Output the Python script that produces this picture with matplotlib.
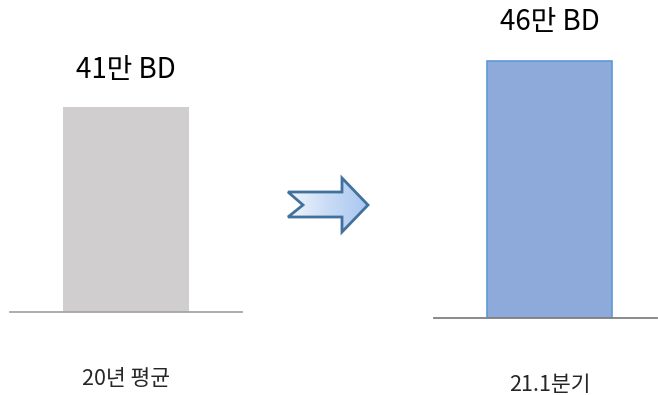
import matplotlib
matplotlib.use("Agg")
import matplotlib.pyplot as plt
import numpy as np
from matplotlib.patches import Polygon
from matplotlib.colors import LinearSegmentedColormap

plt.rcParams['font.family'] = ['Noto Sans CJK KR', 'DejaVu Sans']

categories_left = ["20년 평균"]
values_left = [41]
labels_left = ["41만 BD"]
categories_right = ["21.1분기"]
values_right = [46]
labels_right = ["46만 BD"]

W, H = 658, 395
fig = plt.figure(figsize=(W / 100, H / 100), dpi=100)

def px_axes(x0, x1, ybot, ytop):
    return fig.add_axes([x0 / W, 1 - ybot / H, (x1 - x0) / W, (ybot - ytop) / H])

def style(ax, line_color, pad):
    for s in ["top", "right", "left"]:
        ax.spines[s].set_visible(False)
    ax.spines["bottom"].set_color(line_color)
    ax.spines["bottom"].set_linewidth(1.3)
    ax.set_yticks([])
    ax.tick_params(axis="x", length=0, labelsize=15.5, labelcolor="#262626", pad=pad)
    ax.patch.set_alpha(0)

# Left panel
axL = px_axes(10, 242, 312, 62)
axL.bar(categories_left, values_left, width=126 / 232, color="#D0CECF", edgecolor="none")
axL.set_xlim(-0.5, 0.5)
axL.set_ylim(0, 50)
style(axL, "#A6A6A6", 40)
for c, v, t in zip(categories_left, values_left, labels_left):
    axL.annotate(t, (c, v), xytext=(0, 27), textcoords="offset points",
                 ha="center", va="center", fontsize=20, color="black")

# Right panel
axR = px_axes(434, 657, 318, 38)
axR.bar(categories_right, values_right, width=125 / 223, color="#8EAADB",
        edgecolor="#5B9BD5", linewidth=1.2)
axR.set_xlim(-(549.5 - 434) / 223, (657 - 549.5) / 223)
axR.set_ylim(0, 46 * 280 / 257)
style(axR, "#808080", 40)
for c, v, t in zip(categories_right, values_right, labels_right):
    axR.annotate(t, (c, v), xytext=(0, 28), textcoords="offset points",
                 ha="center", va="center", fontsize=20, color="black")

# Arrow (decorative shape)
axA = fig.add_axes([0, 0, 1, 1])
axA.set_xlim(0, W)
axA.set_ylim(H, 0)
axA.axis("off")
pts = [(288, 192), (342, 192), (342, 178), (368, 205), (342, 232),
       (342, 217), (288, 217), (303, 205)]
poly = Polygon(pts, closed=True, facecolor="none", edgecolor="#41719C",
               linewidth=2, joinstyle="miter", zorder=3)
axA.add_patch(poly)
grad = np.linspace(0, 1, 256).reshape(1, -1)
cmap = LinearSegmentedColormap.from_list("g", ["#F2F6FD", "#C9DCF5", "#A9C7F0"])
im = axA.imshow(grad, extent=(288, 368, 232, 178), cmap=cmap, aspect="auto", zorder=2)
clip = Polygon(pts, closed=True, transform=axA.transData, facecolor="none", edgecolor="none")
axA.add_patch(clip)
im.set_clip_path(clip)

fig.savefig("out.png", dpi=100)
